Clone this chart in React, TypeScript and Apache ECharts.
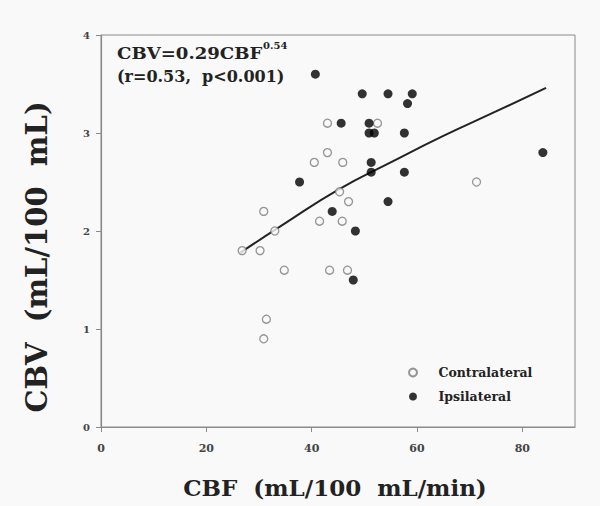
import React, { useEffect, useRef } from "react";
import * as echarts from "echarts";

const xTicks = [0, 20, 40, 60, 80];
const yTicks = [0, 1, 2, 3, 4];

const contralateral: [number, number][] = [
  [43.0, 3.1], [52.5, 3.1], [43.0, 2.8], [40.5, 2.7], [45.9, 2.7],
  [45.3, 2.4], [47.0, 2.3], [30.9, 2.2], [41.5, 2.1], [45.8, 2.1],
  [33.0, 2.0], [26.8, 1.8], [30.2, 1.8], [34.8, 1.6], [43.4, 1.6],
  [46.8, 1.6], [31.4, 1.1], [30.9, 0.9], [71.3, 2.5],
];

const ipsilateral: [number, number][] = [
  [40.7, 3.6], [49.6, 3.4], [54.5, 3.4], [59.1, 3.4], [58.2, 3.3],
  [45.6, 3.1], [50.9, 3.1], [50.9, 3.0], [51.9, 3.0], [57.6, 3.0],
  [51.3, 2.7], [51.3, 2.6], [57.6, 2.6], [37.7, 2.5], [83.9, 2.8],
  [43.9, 2.2], [54.5, 2.3], [48.3, 2.0], [47.9, 1.5],
];

const fitLine: [number, number][] = [
  [26.5, 1.78], [35, 2.08], [45, 2.42], [55, 2.7], [65, 2.97], [75, 3.22], [84.5, 3.46],
];

const FONT = "DejaVu Serif";

export default function App() {
  const ref = useRef<HTMLDivElement>(null);
  useEffect(() => {
    if (!ref.current) return;
    const chart = echarts.init(ref.current, undefined, { renderer: "svg" });
    chart.setOption({
      animation: false,
      backgroundColor: "#f9f9f9",
      grid: {
        left: 101, right: 25, top: 35, bottom: 79,
        show: true, borderColor: "#8a8a8a", borderWidth: 1,
      },
      xAxis: {
        type: "value", min: 0, max: 90, interval: 20,
        axisLine: { show: true, lineStyle: { color: "#8a8a8a", width: 1.2 } },
        axisTick: { show: true, length: 5, lineStyle: { color: "#8a8a8a" },
          customValues: xTicks },
        splitLine: { show: false },
        axisLabel: {
          customValues: xTicks, margin: 16,
          fontFamily: FONT, fontWeight: "bold", fontSize: 11, color: "#444",
        },
      },
      yAxis: {
        type: "value", min: 0, max: 4, interval: 1,
        axisLine: { show: true, lineStyle: { color: "#8a8a8a", width: 1.2 } },
        axisTick: { show: true, length: 5, lineStyle: { color: "#8a8a8a" } },
        splitLine: { show: false },
        axisLabel: {
          margin: 11, fontFamily: FONT, fontWeight: "bold", fontSize: 10, color: "#444",
          formatter: (v: number) => (yTicks.includes(v) ? String(v) : ""),
        },
      },
      legend: {
        orient: "vertical", left: 403, top: 361, itemGap: 11,
        itemWidth: 41, itemHeight: 8,
        textStyle: { fontFamily: FONT, fontWeight: "bold", fontSize: 12.5, color: "#222" },
        data: ["Contralateral", "Ipsilateral"],
      },
      graphic: [
        {
          type: "text", x: 117, y: 53, scaleX: 1.13,
          style: { text: "CBV=0.29CBF", fontFamily: FONT, fontWeight: "bold", fontSize: 16,
            fill: "#222", verticalAlign: "middle", align: "left" },
        },
        {
          type: "text", x: 263, y: 45,
          style: { text: "0.54", fontFamily: FONT, fontWeight: "bold", fontSize: 10,
            fill: "#222", verticalAlign: "middle", align: "left" },
        },
        {
          type: "text", x: 117, y: 76,
          style: { text: "(r=0.53,  p<0.001)", fontFamily: FONT, fontWeight: "bold", fontSize: 16,
            fill: "#222", verticalAlign: "middle", align: "left" },
        },
        {
          type: "text", x: 335, y: 487,
          style: { text: "CBF  (mL/100  mL/min)", fontFamily: FONT, fontWeight: "bold", fontSize: 23,
            fill: "#222", verticalAlign: "middle", align: "center" },
        },
        {
          type: "text", x: 37, y: 257, rotation: Math.PI / 2,
          style: { text: "CBV  (mL/100  mL)", fontFamily: FONT, fontWeight: "bold", fontSize: 29,
            fill: "#222", verticalAlign: "middle", align: "center" },
        },
      ],
      series: [
        {
          name: "fit", type: "line", data: fitLine, smooth: true, showSymbol: false,
          lineStyle: { color: "#222", width: 2 }, z: 1, silent: true,
        },
        {
          name: "Contralateral", type: "scatter", data: contralateral, symbol: "circle",
          symbolSize: 8,
          itemStyle: { color: "#f9f9f9", borderColor: "#7a7a7a", borderWidth: 1.3 },
          z: 2,
        },
        {
          name: "Ipsilateral", type: "scatter", data: ipsilateral, symbol: "circle",
          symbolSize: 9,
          itemStyle: { color: "#000" },
          z: 3,
        },
      ],
    });
    return () => chart.dispose();
  }, []);
  return (
    <div
      ref={ref}
      style={{ position: "fixed", left: 0, top: 0, width: 600, height: 506 }}
    />
  );
}
